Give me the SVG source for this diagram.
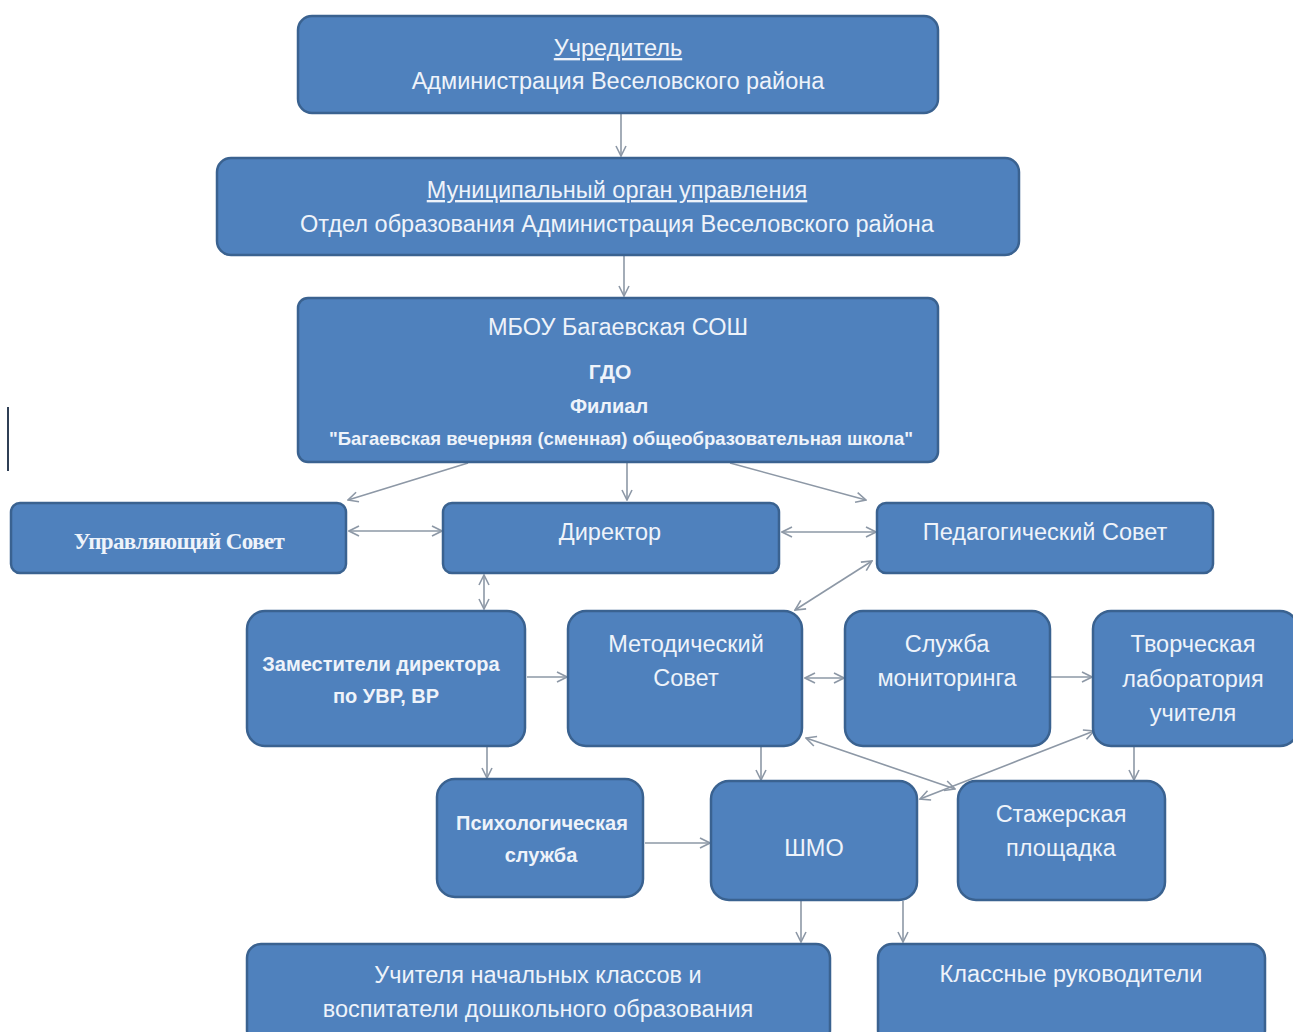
<svg xmlns="http://www.w3.org/2000/svg" width="1293" height="1032" viewBox="0 0 1293 1032">
<defs>
<style>
.box{fill:#4f81bd;stroke:#3a6290;stroke-width:2.5}
text{fill:#eef3fa;font-family:"Liberation Sans","DejaVu Sans",sans-serif;font-size:23.5px;text-anchor:middle}
.b{font-weight:bold;font-size:20px}
.s{font-family:"Liberation Serif","DejaVu Serif",serif;font-weight:bold;font-size:23px;letter-spacing:-0.6px}
.u{text-decoration:underline}
.c{stroke:#8d98a6;stroke-width:1.6;fill:none}
</style>
<marker id="a" viewBox="0 0 12 12" refX="11" refY="6" markerWidth="12" markerHeight="12" markerUnits="userSpaceOnUse" orient="auto-start-reverse">
<path d="M1,1 L11,6 L1,11" fill="none" stroke="#8d98a6" stroke-width="1.6"/>
</marker>
</defs>
<rect width="1293" height="1032" fill="#ffffff"/>
<line x1="8" y1="407" x2="8" y2="471" stroke="#2f3f55" stroke-width="2"/>
<g id="connectors" class="c">
<line x1="621" y1="114" x2="621" y2="156" marker-end="url(#a)"/>
<line x1="624" y1="256" x2="624" y2="296" marker-end="url(#a)"/>
<line x1="468" y1="463" x2="348" y2="500" marker-end="url(#a)"/>
<line x1="627" y1="463" x2="627" y2="500" marker-end="url(#a)"/>
<line x1="730" y1="463" x2="866" y2="500" marker-end="url(#a)"/>
<line x1="349" y1="531" x2="442" y2="531" marker-start="url(#a)" marker-end="url(#a)"/>
<line x1="782" y1="532" x2="876" y2="532" marker-start="url(#a)" marker-end="url(#a)"/>
<line x1="484" y1="575" x2="484" y2="609" marker-start="url(#a)" marker-end="url(#a)"/>
<line x1="872" y1="561" x2="795" y2="610" marker-start="url(#a)" marker-end="url(#a)"/>
<line x1="527" y1="677" x2="567" y2="677" marker-end="url(#a)"/>
<line x1="805" y1="678" x2="844" y2="678" marker-start="url(#a)" marker-end="url(#a)"/>
<line x1="1051" y1="677" x2="1092" y2="677" marker-end="url(#a)"/>
<line x1="487" y1="747" x2="487" y2="778" marker-end="url(#a)"/>
<line x1="761" y1="747" x2="761" y2="780" marker-end="url(#a)"/>
<line x1="1134" y1="747" x2="1134" y2="780" marker-end="url(#a)"/>
<line x1="806" y1="738" x2="955" y2="789" marker-start="url(#a)" marker-end="url(#a)"/>
<line x1="1094" y1="731" x2="920" y2="799" marker-start="url(#a)" marker-end="url(#a)"/>
<line x1="645" y1="843" x2="710" y2="843" marker-end="url(#a)"/>
<line x1="801" y1="901" x2="801" y2="942" marker-end="url(#a)"/>
<line x1="903" y1="901" x2="903" y2="942" marker-end="url(#a)"/>
</g>
<g id="n1"><rect class="box" x="298" y="16" width="640" height="97" rx="14"/>
<text x="618" y="56" class="u">Учредитель</text>
<text x="618" y="89">Администрация Веселовского района</text></g>
<g id="n2"><rect class="box" x="217" y="158" width="802" height="97" rx="14"/>
<text x="617" y="198" class="u">Муниципальный орган управления</text>
<text x="617" y="232">Отдел образования Администрация Веселовского района</text></g>
<g id="n3"><rect class="box" x="298" y="298" width="640" height="164" rx="10"/>
<text x="618" y="335">МБОУ Багаевская СОШ</text>
<text x="610" y="379" class="b" style="font-size:21px">ГДО</text>
<text x="609" y="413" class="b">Филиал</text>
<text x="621" y="445" class="b" style="font-size:18.5px">"Багаевская вечерняя (сменная) общеобразовательная школа"</text></g>
<g id="n4"><rect class="box" x="11" y="503" width="335" height="70" rx="9"/>
<text x="179" y="549" class="s">Управляющий Совет</text></g>
<g id="n5"><rect class="box" x="443" y="503" width="336" height="70" rx="9"/>
<text x="610" y="540">Директор</text></g>
<g id="n6"><rect class="box" x="877" y="503" width="336" height="70" rx="9"/>
<text x="1045" y="540">Педагогический Совет</text></g>
<g id="n7"><rect class="box" x="247" y="611" width="278" height="135" rx="18"/>
<text x="381" y="671" class="b">Заместители директора</text>
<text x="386" y="703" class="b">по УВР, ВР</text></g>
<g id="n8"><rect class="box" x="568" y="611" width="234" height="135" rx="18"/>
<text x="686" y="652">Методический</text>
<text x="686" y="686">Совет</text></g>
<g id="n9"><rect class="box" x="845" y="611" width="205" height="135" rx="18"/>
<text x="947" y="652">Служба</text>
<text x="947" y="686">мониторинга</text></g>
<g id="n10"><rect class="box" x="1093" y="611" width="205" height="135" rx="18"/>
<text x="1193" y="652">Творческая</text>
<text x="1193" y="687">лаборатория</text>
<text x="1193" y="721">учителя</text></g>
<g id="n11"><rect class="box" x="437" y="779" width="206" height="118" rx="18"/>
<text x="542" y="830" class="b">Психологическая</text>
<text x="541" y="862" class="b">служба</text></g>
<g id="n12"><rect class="box" x="711" y="781" width="206" height="119" rx="18"/>
<text x="814" y="856">ШМО</text></g>
<g id="n13"><rect class="box" x="958" y="781" width="207" height="119" rx="18"/>
<text x="1061" y="822">Стажерская</text>
<text x="1061" y="856">площадка</text></g>
<g id="n14"><rect class="box" x="247" y="944" width="583" height="100" rx="14"/>
<text x="538" y="983">Учителя начальных классов и</text>
<text x="538" y="1017">воспитатели дошкольного образования</text></g>
<g id="n15"><rect class="box" x="878" y="944" width="387" height="100" rx="14"/>
<text x="1071" y="982">Классные руководители</text></g>
</svg>
